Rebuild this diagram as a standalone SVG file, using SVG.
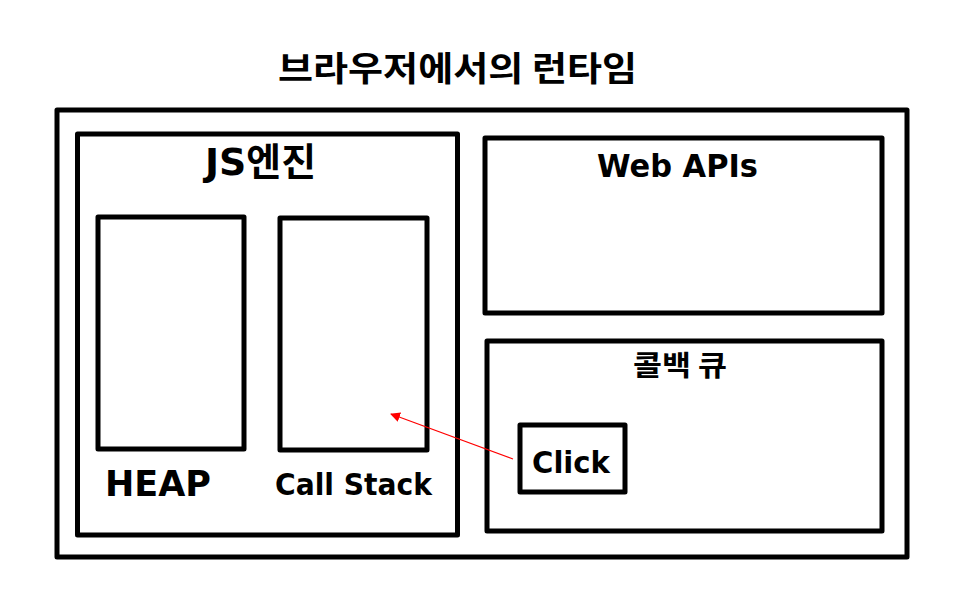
<svg xmlns="http://www.w3.org/2000/svg" width="970" height="609" viewBox="0 0 970 609">
<style>
.box{fill:none;stroke:#000;stroke-width:5;stroke-linejoin:round}
.lat{font-family:"DejaVu Sans","Noto Sans CJK KR",sans-serif;font-weight:bold;fill:#000}
.kr{font-family:"Noto Sans CJK KR","DejaVu Sans",sans-serif;font-weight:bold;fill:#000}
</style>
<defs>
<marker id="ah" viewBox="0 0 10 10" refX="9" refY="5" markerWidth="10" markerHeight="10" markerUnits="userSpaceOnUse" orient="auto">
<path d="M0,0 L10,5 L0,10 z" fill="#ff0000"/>
</marker>
</defs>
<rect width="970" height="609" fill="#fff"/>
<g id="title"><text class="kr" x="278" y="81" font-size="34" font-weight="normal" textLength="359" lengthAdjust="spacingAndGlyphs">브라우저에서의 런타임</text></g>
<g id="runtime"><rect class="box" x="57" y="110" width="850" height="447"/></g>
<g id="js-engine"><rect class="box" x="77.5" y="134" width="380" height="401"/>
<text class="lat" x="205" y="175" font-size="38" textLength="111" lengthAdjust="spacingAndGlyphs">JS엔진</text></g>
<g id="heap"><rect class="box" x="98" y="217" width="146" height="232"/>
<text class="lat" x="105" y="496" font-size="36" textLength="106" lengthAdjust="spacingAndGlyphs">HEAP</text></g>
<g id="call-stack"><rect class="box" x="280" y="218" width="147" height="232"/>
<text class="lat" x="275" y="495" font-size="30" textLength="157" lengthAdjust="spacingAndGlyphs">Call Stack</text></g>
<g id="web-apis"><rect class="box" x="485" y="138" width="397" height="175"/>
<text class="lat" x="597" y="177" font-size="32" textLength="161" lengthAdjust="spacingAndGlyphs">Web APIs</text></g>
<g id="callback-queue"><rect class="box" x="487" y="341" width="395" height="190"/>
<text class="kr" x="633" y="376" font-size="28" textLength="94" lengthAdjust="spacingAndGlyphs">콜백 큐</text></g>
<g id="click"><rect class="box" x="520" y="425" width="105" height="67"/>
<text class="lat" x="532" y="473" font-size="31" textLength="78" lengthAdjust="spacingAndGlyphs">Click</text></g>
<g id="connectors"><line x1="513" y1="459" x2="391" y2="414" stroke="#ff0000" stroke-width="1.2" marker-end="url(#ah)"/></g>
</svg>
